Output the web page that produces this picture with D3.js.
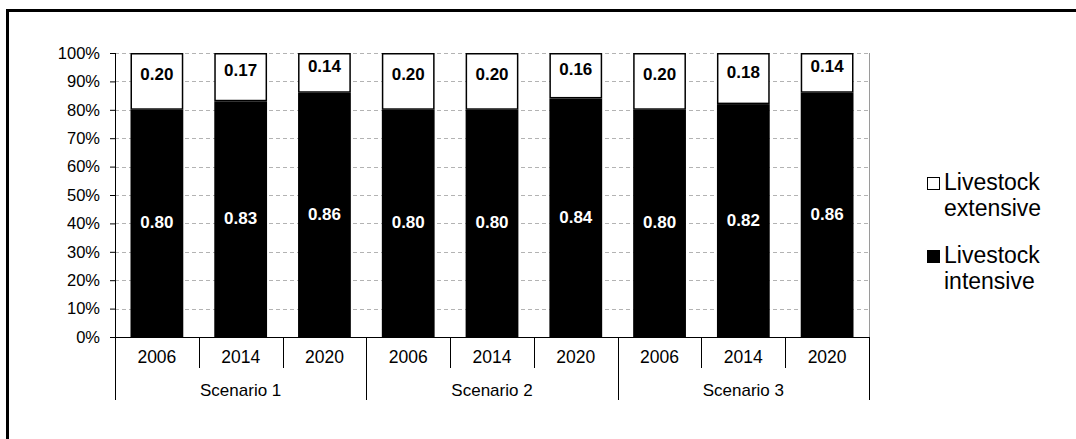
<!DOCTYPE html>
<html>
<head>
<meta charset="utf-8">
<script src="https://cdn.jsdelivr.net/npm/d3@7"></script>
<style>
  body { margin: 0; background: #fff; }
  svg { display: block; font-family: "Liberation Sans", Arial, sans-serif; }
</style>
</head>
<body>
<svg id="chart" width="1076" height="439"></svg>
<script>
// data
var scenarios = ['Scenario 1', 'Scenario 2', 'Scenario 3'];
var years = ['2006', '2014', '2020'];
var intensive = [0.80, 0.83, 0.86, 0.80, 0.80, 0.84, 0.80, 0.82, 0.86];
var extensive = [0.20, 0.17, 0.14, 0.20, 0.20, 0.16, 0.20, 0.18, 0.14];
var yTicks = [0, 0.1, 0.2, 0.3, 0.4, 0.5, 0.6, 0.7, 0.8, 0.9, 1.0];
var legendItems = [
    {lines: ['Livestock', 'extensive'], fill: '#fff'},
    {lines: ['Livestock', 'intensive'], fill: '#000'}
];

var svg = d3.select('svg#chart'),
    margin = {top: 53, left: 115},
    width = 754,
    height = 284,
    g = svg.append('g').attr('transform', 'translate(' + margin.left + ',' + margin.top + ')');

// outer frame (cut off at right and bottom)
svg.append('rect')
    .attr('x', 7.5).attr('y', 10.5)
    .attr('width', 1100).attr('height', 500)
    .attr('fill', 'none')
    .attr('stroke', '#000')
    .attr('stroke-width', 3);

var keys = [];
scenarios.forEach(function(s) {
    years.forEach(function(y) { keys.push(s + '|' + y); });
});

var x = d3.scaleBand()
    .domain(keys)
    .range([0, width])
    .paddingInner(0.37)
    .paddingOuter(0.185);

var xs = d3.scaleBand()
    .domain(scenarios)
    .range([0, width]);

var y = d3.scaleLinear()
    .domain([0, 1])
    .range([height, 0]);

// gridlines
g.append('g')
    .selectAll('line')
    .data(yTicks.slice(1))
    .enter().append('line')
    .attr('x1', 0).attr('x2', width)
    .attr('y1', function(d) { return Math.round(y(d)) + 0.5; })
    .attr('y2', function(d) { return Math.round(y(d)) + 0.5; })
    .attr('stroke', '#b3b3b3')
    .attr('stroke-dasharray', '4,3');

// right border of plot area
g.append('line')
    .attr('x1', width + 0.5).attr('x2', width + 0.5)
    .attr('y1', 0).attr('y2', height)
    .attr('stroke', '#9a9a9a');

var bars = g.selectAll('.bar')
    .data(keys)
    .enter().append('g')
    .attr('class', 'bar');

bars.append('rect')
    .attr('x', function(d) { return x(d); })
    .attr('width', x.bandwidth())
    .attr('y', function(d, i) { return y(intensive[i]); })
    .attr('height', function(d, i) { return height - y(intensive[i]); })
    .attr('fill', '#000');

bars.append('rect')
    .attr('x', function(d) { return x(d) + 0.75; })
    .attr('width', x.bandwidth() - 1.5)
    .attr('y', function(d, i) { return y(intensive[i] + extensive[i]) + 0.75; })
    .attr('height', function(d, i) { return y(intensive[i]) - y(intensive[i] + extensive[i]) - 1.5; })
    .attr('fill', '#fff')
    .attr('stroke', '#000')
    .attr('stroke-width', 1.5);

bars.append('text')
    .attr('x', function(d) { return x(d) + x.bandwidth() / 2; })
    .attr('y', function(d, i) { return y(intensive[i] / 2) - 1; })
    .attr('dy', '0.35em')
    .attr('text-anchor', 'middle')
    .attr('fill', '#fff')
    .style('font-size', '17px')
    .style('font-weight', 'bold')
    .text(function(d, i) { return d3.format('.2f')(intensive[i]); });

bars.append('text')
    .attr('x', function(d) { return x(d) + x.bandwidth() / 2; })
    .attr('y', function(d, i) { return y(intensive[i] + extensive[i] / 2) - 7; })
    .attr('dy', '0.35em')
    .attr('text-anchor', 'middle')
    .attr('fill', '#000')
    .style('font-size', '17px')
    .style('font-weight', 'bold')
    .text(function(d, i) { return d3.format('.2f')(extensive[i]); });

// y axis
var yAxis = g.append('g')
    .call(d3.axisLeft(y).tickValues(yTicks).tickSize(5).tickFormat(d3.format('.0%')));
yAxis.selectAll('path, line').attr('stroke', '#000');
yAxis.select('.domain').attr('d', 'M0.5,0V' + height);
yAxis.selectAll('text')
    .attr('x', -15)
    .style('font-size', '16.5px')
    .style('font-family', '"Liberation Sans", Arial, sans-serif')
    .attr('fill', '#000');

// x axis, two levels
var xAxis = g.append('g').attr('transform', 'translate(0,' + height + ')');
xAxis.append('line')
    .attr('x1', 0).attr('x2', width)
    .attr('y1', 0.5).attr('y2', 0.5)
    .attr('stroke', '#000');

var step = width / keys.length;
xAxis.selectAll('.ytick')
    .data(keys)
    .enter().append('line')
    .attr('x1', function(d, i) { return Math.round(i * step) + 0.5; })
    .attr('x2', function(d, i) { return Math.round(i * step) + 0.5; })
    .attr('y1', 0).attr('y2', 31)
    .attr('stroke', '#000');

xAxis.selectAll('.ylab')
    .data(keys)
    .enter().append('text')
    .attr('x', function(d) { return x(d) + x.bandwidth() / 2; })
    .attr('y', 26)
    .attr('text-anchor', 'middle')
    .style('font-size', '17.5px')
    .text(function(d) { return d.split('|')[1]; });

xAxis.selectAll('.stick')
    .data(scenarios.concat(['end']))
    .enter().append('line')
    .attr('x1', function(d, i) { return Math.round(i * xs.bandwidth()) + 0.5; })
    .attr('x2', function(d, i) { return Math.round(i * xs.bandwidth()) + 0.5; })
    .attr('y1', 0).attr('y2', 63)
    .attr('stroke', '#000');

xAxis.selectAll('.slab')
    .data(scenarios)
    .enter().append('text')
    .attr('x', function(d) { return xs(d) + xs.bandwidth() / 2; })
    .attr('y', 59)
    .attr('text-anchor', 'middle')
    .style('font-size', '17px')
    .text(function(d) { return d; });

// legend
var legend = svg.append('g').attr('transform', 'translate(927,177)');
var item = legend.selectAll('.item')
    .data(legendItems)
    .enter().append('g')
    .attr('transform', function(d, i) { return 'translate(0,' + (i * 73) + ')'; });

item.append('rect')
    .attr('x', 0.5).attr('y', 0.5)
    .attr('width', 12).attr('height', 12)
    .attr('fill', function(d) { return d.fill; })
    .attr('stroke', '#000');

item.append('text')
    .attr('x', 17)
    .attr('y', 13)
    .style('font-size', '23px')
    .selectAll('tspan')
    .data(function(d) { return d.lines; })
    .enter().append('tspan')
    .attr('x', 17)
    .attr('dy', function(d, i) { return i === 0 ? 0 : 26; })
    .text(function(d) { return d; });
</script>
</body>
</html>
